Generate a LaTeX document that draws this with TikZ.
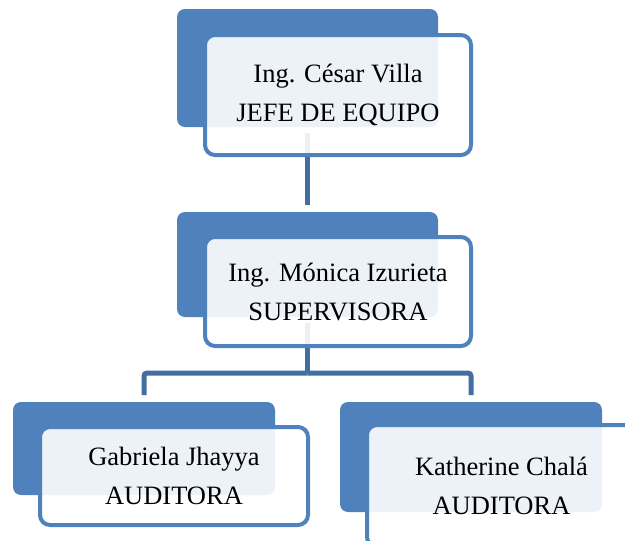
\documentclass[tikz,border=0pt]{standalone}
\usepackage{fontspec}
\setmainfont{Liberation Serif}
\definecolor{myblue}{HTML}{4F81BD}
\colorlet{mylink}{myblue!85!black}

\begin{document}
\begin{tikzpicture}[x=1pt,y=-1pt]
\tikzset{back/.style={rectangle, rounded corners=8pt, fill=myblue, inner sep=0pt, outer sep=0pt}}
\tikzset{front/.style={rectangle, rounded corners=10pt, draw=myblue, line width=4pt, fill=white,
  fill opacity=0.9, text opacity=1, inner sep=0pt, outer sep=0pt, align=center,
  font=\fontsize{26.5}{39}\selectfont}}
\tikzset{link/.style={draw=mylink, line width=5pt}}
\useasboundingbox (0,0) rectangle (625,541);
% back plates
\node[back, minimum width=261pt, minimum height=118pt] (jefeB) at (307.5,68) {};
\node[back, minimum width=261pt, minimum height=105pt] (superB) at (307.5,264.5) {};
\node[back, minimum width=262pt, minimum height=93pt] (audiB) at (144,448.5) {};
\node[back, minimum width=262pt, minimum height=110pt] (audkB) at (471,457) {};
% connectors
\coordinate (fork) at (307.5,373);
\draw[link, shorten <=6pt, shorten >=7pt] (jefeB) -- (superB);
\draw[link, shorten <=6pt] (superB.south) -- (fork);
\draw[link, rounded corners=3pt, shorten >=7pt] (fork) -| (audiB.north);
\draw[link, rounded corners=3pt, shorten >=7pt] (fork) -| (audkB.north);
% front cards
\node[front, minimum width=266pt, minimum height=120pt] (jefe) at (338,95) {Ing. César Villa\\JEFE DE EQUIPO};
\node[front, minimum width=266pt, minimum height=109pt] (super) at (338,291.5) {Ing. Mónica Izurieta\\SUPERVISORA};
\node[front, minimum width=268pt, minimum height=98pt] (audi) at (174,476) {Gabriela Jhayya\\AUDITORA};
\node[front, minimum width=269pt, minimum height=122pt] (audk) at (501.5,486) {Katherine Chalá\\AUDITORA};
\end{tikzpicture}
\end{document}
